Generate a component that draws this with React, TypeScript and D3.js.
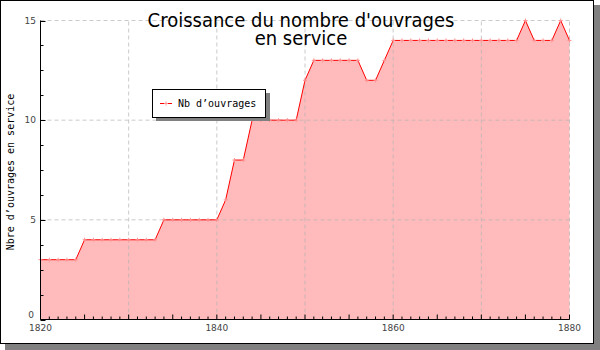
import React from "react";
import * as d3 from "d3";

const years: number[] = d3.range(1820, 1881);
const values: number[] = [
  3, 3, 3, 3, 3,
  4, 4, 4, 4, 4, 4, 4, 4, 4,
  5, 5, 5, 5, 5, 5, 5,
  6,
  8, 8,
  10, 10, 10, 10, 10, 10,
  12,
  13, 13, 13, 13, 13, 13,
  12, 12,
  13,
  14, 14, 14, 14, 14, 14, 14, 14, 14, 14, 14, 14, 14, 14, 14,
  15,
  14, 14, 14,
  15,
  14,
];
const xTickLabels: number[] = [1820, 1840, 1860, 1880];
const yTickLabels: number[] = [0, 5, 10, 15];
const xGrid: number[] = [1830, 1840, 1850, 1860, 1870, 1880];
const yGrid: number[] = [5, 10, 15];
const titleLines: string[] = ["Croissance du nombre d'ouvrages", "en service"];
const seriesName = "Nb d\u2019ouvrages";
const yAxisTitle = "Nbre d\u2019ouvrages en service";

export default function App() {
  const W = 600, H = 350;
  const x = d3.scaleLinear().domain([1820, 1880]).range([40.5, 569.5]);
  const y = d3.scaleLinear().domain([0, 15]).range([319.5, 20.5]);
  const data = years.map((yr, i) => ({ yr, v: values[i] }));
  const line = d3.line<{ yr: number; v: number }>().x(d => x(d.yr)).y(d => y(d.v));
  const area = d3.area<{ yr: number; v: number }>().x(d => x(d.yr)).y0(y(0)).y1(d => y(d.v));
  const minorX = d3.range(1820, 1881);
  const minorY = d3.range(0, 15.01, 1.25);
  const tickFont = "DejaVu Sans, sans-serif";
  const mono = "DejaVu Sans Mono, monospace";
  return (
    <svg width={W} height={H} style={{ position: "absolute", left: 0, top: 0 }}>
      <rect x={0} y={0} width={W} height={H} fill="#fff" />
      <rect x={5} y={5} width={595} height={345} fill="#808080" />
      <rect x={0.5} y={0.5} width={593} height={343} fill="#fff" stroke="#000" strokeWidth={1} />
      <path d={area(data) ?? ""} fill="#ffbbbb" />
      {xGrid.map(g => (
        <line key={"gx" + g} x1={x(g)} x2={x(g)} y1={y(0)} y2={y(15)} stroke="#b4b4b4" strokeOpacity={0.7} strokeDasharray="4,3" />
      ))}
      {yGrid.map(g => (
        <line key={"gy" + g} x1={x(1820)} x2={x(1880)} y1={y(g)} y2={y(g)} stroke="#b4b4b4" strokeOpacity={0.7} strokeDasharray="4,3" />
      ))}
      <path d={line(data) ?? ""} fill="none" stroke="#ff0000" strokeWidth={1} />
      {data.map(d => (
        <g key={"m" + d.yr} stroke="#ff9090" strokeWidth={1}>
          <line x1={x(d.yr) - 2} x2={x(d.yr) + 2} y1={y(d.v)} y2={y(d.v)} />
          <line x1={x(d.yr)} x2={x(d.yr)} y1={y(d.v) - 2} y2={y(d.v) + 2} />
        </g>
      ))}
      <line x1={x(1820)} x2={x(1820)} y1={y(0)} y2={y(15)} stroke="#000" />
      <line x1={x(1820)} x2={x(1880)} y1={y(0)} y2={y(0)} stroke="#000" />
      {minorX.map(t => (
        <line key={"tx" + t} x1={x(t)} x2={x(t)} y1={y(0)} y2={y(0) - (t % 5 === 0 ? 5 : 3)} stroke="#000" />
      ))}
      {minorY.map(t => (
        <line key={"ty" + t} x1={x(1820)} x2={x(1820) + (t % 5 === 0 ? 5 : 3)} y1={Math.round(y(t)) + 0.5} y2={Math.round(y(t)) + 0.5} stroke="#000" />
      ))}
      {xTickLabels.map(t => (
        <text key={"lx" + t} x={x(t)} y={y(0) + 11} fontSize={9} fontFamily={tickFont} fill="#444" textAnchor="middle">{t}</text>
      ))}
      {yTickLabels.map(t => (
        <text key={"ly" + t} x={t === 0 ? 34 : 36} y={t === 0 ? y(t) - 2 : y(t) + 3} fontSize={9} fontFamily={tickFont} fill="#444" textAnchor="end">{t}</text>
      ))}
      <text fontSize={20} fontFamily="Liberation Sans Narrow, DejaVu Sans Condensed, sans-serif" fontStretch="condensed" fill="#000" textAnchor="middle">
        {titleLines.map((s, i) => (
          <tspan key={"t" + i} x={301} y={27 + i * 17.5}>{s}</tspan>
        ))}
      </text>
      <text transform={`translate(14,172) rotate(-90)`} fontSize={10} fontFamily={mono} fill="#000" textAnchor="middle">{yAxisTitle}</text>
      <rect x={156} y={93} width={114} height={28} fill="#808080" />
      <rect x={152.5} y={89.5} width={113} height={28} fill="#fff" stroke="#000" />
      <line x1={160} x2={172} y1={103.5} y2={103.5} stroke="#ff0000" />
      <g stroke="#ff9090">
        <line x1={164} x2={168} y1={103.5} y2={103.5} />
        <line x1={166} x2={166} y1={101.5} y2={105.5} />
      </g>
      <text x={178} y={107} fontSize={10} fontFamily={mono} fill="#000">{seriesName}</text>
    </svg>
  );
}
